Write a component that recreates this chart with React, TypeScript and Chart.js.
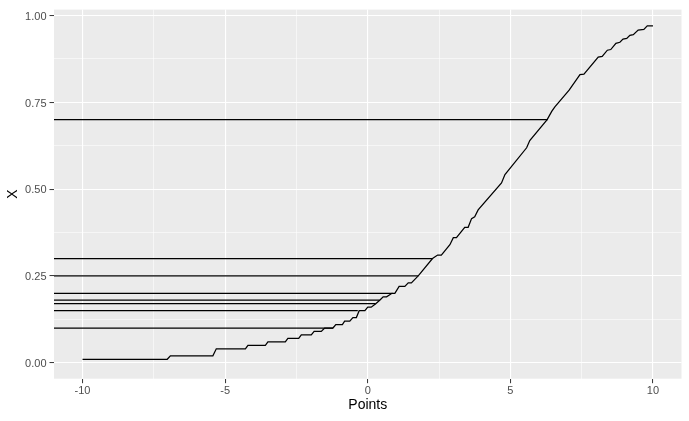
import React, { useEffect, useRef } from 'react';
import { Chart, registerables } from 'chart.js';

Chart.register(...registerables);

// Curve (cumulative proportion X against Points)
const curveX = [
  -10, -7.03, -6.92, -5.43, -5.31, -4.29, -4.2, -3.59, -3.5, -2.89, -2.8, -2.42, -2.33,
  -1.98, -1.88, -1.63, -1.51, -1.22, -1.12, -0.89, -0.81, -0.63, -0.52, -0.4, -0.3,
  -0.1, 0.0, 0.12, 0.28, 0.42, 0.54, 0.66, 0.85, 0.95, 1.1, 1.3, 1.42, 1.53, 1.65,
  1.77, 2.27, 2.45, 2.58, 2.88, 3.0, 3.11, 3.4, 3.52, 3.64, 3.75, 3.87, 4.69, 4.81,
  5.57, 5.68, 6.29, 6.45, 6.56, 7.06, 7.44, 7.58, 8.08, 8.22, 8.4, 8.52, 8.7, 8.84,
  8.95, 9.08, 9.19, 9.31, 9.48, 9.68, 9.8, 10.0,
];
const curveY = [
  0.01, 0.01, 0.02, 0.02, 0.04, 0.04, 0.05, 0.05, 0.06, 0.06, 0.07, 0.07, 0.08,
  0.08, 0.09, 0.09, 0.1, 0.1, 0.11, 0.11, 0.12, 0.12, 0.13, 0.13, 0.15,
  0.15, 0.16, 0.16, 0.17, 0.18, 0.19, 0.19, 0.2, 0.2, 0.22, 0.22, 0.23, 0.23, 0.24,
  0.25, 0.3, 0.31, 0.31, 0.34, 0.36, 0.36, 0.39, 0.39, 0.415, 0.42, 0.44, 0.518, 0.542,
  0.619, 0.64, 0.7, 0.724, 0.737, 0.785, 0.83, 0.831, 0.88, 0.882, 0.9, 0.902, 0.92, 0.923,
  0.932, 0.934, 0.943, 0.945, 0.958, 0.96, 0.97, 0.97,
];

// Horizontal reference segments: level and the Points value where they meet the curve
const levelY = [0.1, 0.15, 0.17, 0.18, 0.2, 0.25, 0.3, 0.7];
const levelEndX = [-1.22, -0.35, 0.28, 0.42, 0.87, 1.77, 2.27, 6.31];

// Axis ticks
const xTicks = [-10, -7.5, -5, -2.5, 0, 2.5, 5, 7.5, 10];
const xMajor = [-10, -5, 0, 5, 10];
const yTicks = [0, 0.125, 0.25, 0.375, 0.5, 0.625, 0.75, 0.875, 1];
const yMajor = [0, 0.25, 0.5, 0.75, 1];

const X_MIN = -11;
const X_MAX = 11;
const Y_MIN = -0.046;
const Y_MAX = 1.017;

const FONT = "'Liberation Sans', Arial, Helvetica, sans-serif";

const panelBg = {
  id: 'panelBg',
  beforeDraw(chart: any) {
    const { ctx, chartArea } = chart;
    ctx.save();
    ctx.fillStyle = '#EBEBEB';
    ctx.fillRect(chartArea.left, chartArea.top, chartArea.right - chartArea.left, chartArea.bottom - chartArea.top);
    ctx.restore();
  },
};

const isMajor = (v: number, majors: number[]) => majors.some((m) => Math.abs(m - v) < 1e-9);

export default function App() {
  const ref = useRef<HTMLCanvasElement | null>(null);

  useEffect(() => {
    if (!ref.current) return;
    const datasets: any[] = levelY.map((lv, i) => ({
      data: [
        { x: X_MIN, y: lv },
        { x: levelEndX[i], y: lv },
      ],
      borderColor: '#000000',
      borderWidth: 1.25,
      pointRadius: 0,
      tension: 0,
    }));
    datasets.push({
      data: curveX.map((x, i) => ({ x, y: curveY[i] })),
      borderColor: '#000000',
      borderWidth: 1.25,
      pointRadius: 0,
      tension: 0,
    });

    const chart = new Chart(ref.current, {
      type: 'line',
      data: { datasets },
      plugins: [panelBg],
      options: {
        animation: false,
        responsive: false,
        devicePixelRatio: 1,
        layout: { padding: { left: 0, right: 7.5, top: 7.3, bottom: 0 } },
        plugins: { legend: { display: false }, tooltip: { enabled: false } },
        scales: {
          x: {
            type: 'linear',
            min: X_MIN,
            max: X_MAX,
            afterFit: (axis: any) => {
              axis.height = 42.3;
            },
            afterBuildTicks: (axis: any) => {
              axis.ticks = xTicks.map((v) => ({ value: v }));
            },
            border: { display: false },
            grid: {
              color: '#FFFFFF',
              lineWidth: (c: any) => (isMajor(c.tick?.value, xMajor) ? 1.1 : 0.55),
              tickColor: (c: any) => (isMajor(c.tick?.value, xMajor) ? '#333333' : 'rgba(0,0,0,0)'),
              tickLength: 4.5,
              tickWidth: 1,
            },
            ticks: {
              autoSkip: false,
              maxRotation: 0,
              padding: 1,
              color: '#4D4D4D',
              font: { family: FONT, size: 11 },
              callback: (v: any) => (isMajor(Number(v), xMajor) ? String(v) : ''),
            },
            title: {
              display: true,
              text: 'Points',
              color: '#000000',
              font: { family: FONT, size: 14, lineHeight: 1.2 },
              padding: { top: 0, bottom: 7.6 },
            },
          },
          y: {
            type: 'linear',
            min: Y_MIN,
            max: Y_MAX,
            afterFit: (axis: any) => {
              axis.width = 54;
            },
            afterBuildTicks: (axis: any) => {
              axis.ticks = yTicks.map((v) => ({ value: v }));
            },
            border: { display: false },
            grid: {
              color: '#FFFFFF',
              lineWidth: (c: any) => (isMajor(c.tick?.value, yMajor) ? 1.1 : 0.55),
              tickColor: (c: any) => (isMajor(c.tick?.value, yMajor) ? '#333333' : 'rgba(0,0,0,0)'),
              tickLength: 4.5,
              tickWidth: 1,
            },
            ticks: {
              autoSkip: false,
              padding: 3,
              labelOffset: 1.2,
              color: '#4D4D4D',
              font: { family: FONT, size: 11 },
              callback: (v: any) => (isMajor(Number(v), yMajor) ? Number(v).toFixed(2) : ''),
            },
            title: {
              display: true,
              text: 'X',
              color: '#000000',
              font: { family: FONT, size: 14, lineHeight: 1.2 },
              padding: { top: 4.9, bottom: 0 },
            },
          },
        },
      },
    } as any);
    return () => chart.destroy();
  }, []);

  return (
    <div style={{ position: 'absolute', left: 0, top: 0, width: 689, height: 421, background: '#FFFFFF' }}>
      <canvas ref={ref} width={689} height={421} style={{ display: 'block', width: 689, height: 421 }} />
    </div>
  );
}
